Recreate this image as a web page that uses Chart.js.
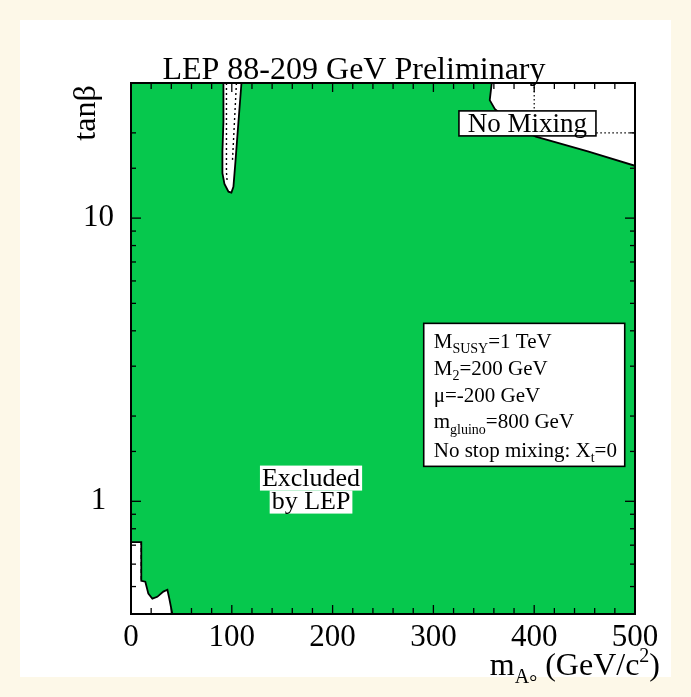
<!DOCTYPE html>
<html>
<head>
<meta charset="utf-8">
<script src="https://cdn.jsdelivr.net/npm/chart.js@4.4.1/dist/chart.umd.min.js"></script>
<style>
  html, body { margin: 0; padding: 0; background: #fdf8e8; }
  canvas { display: block; }
</style>
</head>
<body>
<canvas id="chart" width="691" height="697"></canvas>
<script>
// Axis ranges
const massRange = [0, 500];      // m_A (GeV/c^2)
const tanbRange = [0.4, 30];     // tan(beta)

// Observed exclusion contour (solid), walked clockwise from the top-left corner.
// Everything inside this outline is excluded at 95% CL.
const exclMass = [0, 91.7, 91.7, 90.7, 90.7, 92.7, 96.7, 99.6, 101.6, 103.6, 106.6, 109.6,
                  357.9, 355.9, 360.9, 381.8, 401.6, 453.2, 500,
                  500, 41, 38, 36.1, 32.1, 26.1, 21.2, 17.2, 14.2, 10.2, 10.2, 0, 0];
const exclTanb = [30, 30, 21.9, 17.2, 14.4, 13.2, 12.4, 12.3, 12.9, 15.8, 21.9, 30,
                  30, 26.1, 24.3, 21.0, 19.4, 17.2, 15.3,
                  0.4, 0.4, 0.453, 0.487, 0.48, 0.46, 0.453, 0.472, 0.52, 0.524, 0.718, 0.718, 30];

// Expected limits (dotted / dashed)
const spikeAMass = [94.7, 94.7, 95.5];
const spikeATanb = [30, 14.5, 13.3];
const spikeBMass = [104.6, 100.6];
const spikeBTanb = [30, 15.8];
const noMixMass = [400, 400, 500];
const noMixTanb = [30, 20, 20];
const lowMass = [0, 10.2, 10.2, 14.2, 37.4, 41];
const lowTanb = [0.747, 0.747, 0.532, 0.526, 0.533, 0.4];

// Tick labels
const massLabels = [0, 100, 200, 300, 400, 500];
const tanbLabels = [1, 10];

const toXY = (xs, ys) => xs.map((v, i) => ({ x: v, y: ys[i] }));

const SERIF = '"Liberation Serif", "Times New Roman", serif';
const GREEN = '#06c84d';

function textRuns(ctx, x, y, parts, align) {
  let w = 0;
  parts.forEach(p => { ctx.font = p[1] + 'px ' + SERIF; w += ctx.measureText(p[0]).width; });
  let cx = align === 'center' ? x - w / 2 : (align === 'right' ? x - w : x);
  ctx.textAlign = 'left';
  parts.forEach(p => {
    ctx.font = p[1] + 'px ' + SERIF;
    ctx.fillText(p[0], cx, y + (p[2] || 0));
    cx += ctx.measureText(p[0]).width;
  });
  return w;
}

const pagePanel = {
  id: 'pagePanel',
  beforeDraw(chart) {
    const { ctx, width, height } = chart;
    ctx.save();
    ctx.fillStyle = '#fdf8e8';
    ctx.fillRect(0, 0, width, height);
    ctx.fillStyle = '#ffffff';
    ctx.fillRect(20, 20, width - 40, height - 40);
    ctx.restore();
  }
};

const frameAndNotes = {
  id: 'frameAndNotes',
  afterDatasetsDraw(chart) {
    const { ctx, chartArea: a, scales: { x, y } } = chart;
    ctx.save();
    ctx.strokeStyle = '#000';
    ctx.lineWidth = 1.3;
    const seg = (x1, y1, x2, y2) => { ctx.beginPath(); ctx.moveTo(x1, y1); ctx.lineTo(x2, y2); ctx.stroke(); };
    // inward tick marks on all four sides
    x.ticks.forEach(t => {
      const px = x.getPixelForValue(t.value);
      const L = t.value % 100 === 0 ? 9 : 6;
      seg(px, a.bottom, px, a.bottom - L);
      seg(px, a.top, px, a.top + L);
    });
    y.ticks.forEach(t => {
      const py = y.getPixelForValue(t.value);
      const lg = Math.log10(t.value);
      const L = Math.abs(lg - Math.round(lg)) < 1e-6 ? 10 : 5;
      seg(a.left, py, a.left + L, py);
      seg(a.right, py, a.right - L, py);
    });
    ctx.lineWidth = 2;
    ctx.strokeRect(a.left, a.top, a.right - a.left, a.bottom - a.top);

    ctx.fillStyle = '#000';
    ctx.textBaseline = 'alphabetic';

    // "No Mixing" box
    {
      const cx = x.getPixelForValue(393.3), cy = y.getPixelForValue(21.6);
      const w = 137, h = 25;
      ctx.fillStyle = '#fff';
      ctx.fillRect(cx - w / 2, cy - h / 2, w, h);
      ctx.lineWidth = 1.6;
      ctx.strokeRect(cx - w / 2, cy - h / 2, w, h);
      ctx.fillStyle = '#000';
      textRuns(ctx, cx, cy + 9, [['No Mixing', 27]], 'center');
    }

    // parameter box
    {
      const bx = x.getPixelForValue(290.4), by = y.getPixelForValue(4.25);
      const w = 201, h = 143;
      ctx.fillStyle = '#fff';
      ctx.fillRect(bx, by, w, h);
      ctx.lineWidth = 1.6;
      ctx.strokeRect(bx, by, w, h);
      ctx.fillStyle = '#000';
      const tx = bx + 10;
      textRuns(ctx, tx, by + 25, [['M', 21], ['SUSY', 14, 5], ['=1 TeV', 21]]);
      textRuns(ctx, tx, by + 52, [['M', 21], ['2', 14, 5], ['=200 GeV', 21]]);
      textRuns(ctx, tx, by + 79, [['\u03bc=-200 GeV', 21]]);
      textRuns(ctx, tx, by + 105, [['m', 21], ['gluino', 14, 6], ['=800 GeV', 21]]);
      textRuns(ctx, tx, by + 134, [['No stop mixing: X', 21], ['t', 14, 5], ['=0', 21]]);
    }

    // "Excluded by LEP"
    {
      const cx = x.getPixelForValue(178.6), cy = y.getPixelForValue(1.1);
      ctx.font = '26px ' + SERIF;
      const w1 = ctx.measureText('Excluded').width + 4;
      const w2 = ctx.measureText('by LEP').width + 4;
      ctx.fillStyle = '#fff';
      ctx.fillRect(cx - w1 / 2, cy - 24, w1, 25);
      ctx.fillRect(cx - w2 / 2, cy + 1, w2, 23);
      ctx.fillStyle = '#000';
      textRuns(ctx, cx, cy - 4, [['Excluded', 26]], 'center');
      textRuns(ctx, cx, cy + 19, [['by LEP', 26]], 'center');
    }
    ctx.restore();
  },
  afterDraw(chart) {
    const { ctx, chartArea: a } = chart;
    ctx.save();
    ctx.fillStyle = '#000';
    ctx.textBaseline = 'alphabetic';
    // title
    textRuns(ctx, (a.left + a.right) / 2 - 29, a.top - 4, [['LEP 88-209 GeV Preliminary', 32]], 'center');
    // x-axis title
    textRuns(ctx, a.right + 25, a.bottom + 61,
      [['m', 32], ['A', 20, 8], ['\u00b0', 20, 14], [' (GeV/c', 32], ['2', 20, -13], [')', 32]], 'right');
    // y-axis title
    ctx.translate(a.left - 36, a.top + 30);
    ctx.rotate(-Math.PI / 2);
    textRuns(ctx, 0, 0, [['tan\u03b2', 32]], 'center');
    ctx.restore();
  }
};

new Chart(document.getElementById('chart'), {
  type: 'scatter',
  data: {
    datasets: [
      {
        label: 'Excluded by LEP',
        data: toXY(exclMass, exclTanb),
        showLine: true,
        fill: 'shape',
        backgroundColor: GREEN,
        borderColor: '#000',
        borderWidth: 1.8,
        pointRadius: 0,
        tension: 0
      },
      {
        label: 'expected (spike a)',
        data: toXY(spikeAMass, spikeATanb),
        showLine: true, fill: false, borderColor: '#000', borderWidth: 1.4,
        borderDash: [2, 3], pointRadius: 0
      },
      {
        label: 'expected (spike b)',
        data: toXY(spikeBMass, spikeBTanb),
        showLine: true, fill: false, borderColor: '#000', borderWidth: 1.4,
        borderDash: [2, 3], pointRadius: 0
      },
      {
        label: 'expected (no mixing)',
        data: toXY(noMixMass, noMixTanb),
        showLine: true, fill: false, borderColor: '#000', borderWidth: 1.2,
        borderDash: [1.5, 2.5], pointRadius: 0
      },
      {
        label: 'expected (low mass)',
        data: toXY(lowMass, lowTanb),
        showLine: true, fill: false, borderColor: '#000', borderWidth: 1.4,
        borderDash: [4, 3], pointRadius: 0
      }
    ]
  },
  options: {
    responsive: false,
    animation: false,
    events: [],
    layout: { padding: { top: 83, right: 56, left: 0, bottom: 0 } },
    plugins: { legend: { display: false }, tooltip: { enabled: false }, title: { display: false } },
    scales: {
      x: {
        type: 'linear',
        min: massRange[0], max: massRange[1],
        grid: { display: false },
        border: { display: false },
        afterFit(scale) { scale.height = 83; },
        ticks: {
          stepSize: 20,
          autoSkip: false,
          maxRotation: 0,
          padding: -3,
          color: '#000',
          font: { family: SERIF, size: 31 },
          callback: v => (massLabels.includes(v) ? String(v) : '')
        }
      },
      y: {
        type: 'logarithmic',
        min: tanbRange[0], max: tanbRange[1],
        grid: { display: false },
        border: { display: false },
        afterFit(scale) { scale.width = 131; },
        ticks: {
          autoSkip: false,
          crossAlign: 'center',
          padding: 9,
          color: '#000',
          font: { family: SERIF, size: 31 },
          callback: v => (tanbLabels.some(t => Math.abs(t - v) < 1e-9) ? String(v) : '')
        }
      }
    }
  },
  plugins: [pagePanel, frameAndNotes]
});
</script>
</body>
</html>
